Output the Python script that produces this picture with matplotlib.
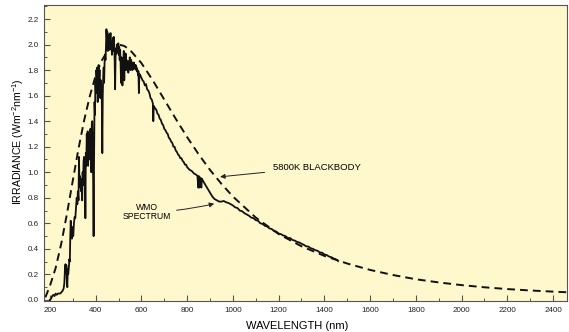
import matplotlib.pyplot as plt
from matplotlib.ticker import MultipleLocator, FormatStrFormatter

plt.rcParams['font.family'] = ['Liberation Sans', 'DejaVu Sans']
plt.rcParams['mathtext.default'] = 'regular'

# 5800K blackbody (dashed)
bbWave = [180, 200, 225, 250, 275, 300, 325, 350, 375, 400, 425, 450, 475, 500, 525, 550,
          600, 650, 700, 750, 800, 850, 900, 950, 1000, 1100, 1200, 1300, 1400, 1500, 1600,
          1700, 1800, 1900, 2000, 2100, 2200, 2300, 2400, 2460]
bbIrr = [0.02, 0.11, 0.25, 0.445, 0.68, 0.935, 1.185, 1.41, 1.60, 1.757, 1.87, 1.945, 1.988, 2.0,
         1.989, 1.958, 1.855, 1.719, 1.569, 1.419, 1.275, 1.141, 1.018, 0.909, 0.81, 0.645, 0.516,
         0.42, 0.345, 0.285, 0.235, 0.195, 0.162, 0.137, 0.116, 0.099, 0.085, 0.074, 0.065, 0.06]

# WMO spectrum (solid)
wmoWave = [200, 205, 210, 215, 220, 225, 230, 235, 240, 245, 250, 255, 260, 263, 266, 268, 270,
           272, 274, 276, 278, 280, 283, 285, 287, 289, 291, 293, 296, 299, 302, 305, 308, 311,
           314, 317, 320, 322, 325, 327, 329, 331, 333, 335, 337, 339, 341, 343, 345, 347, 349,
           351, 353, 355, 357, 359, 361, 363, 365, 367, 369, 371, 373, 375, 377, 379, 381, 383,
           385, 387, 389, 391, 393, 395, 397, 399, 401, 403, 405, 407, 409, 411, 413, 415, 417,
           419, 421, 423, 425, 427, 429, 431, 433, 435, 437, 439, 441, 443, 445, 447, 449, 451,
           453, 455, 457, 459, 461, 463, 465, 467, 469, 471, 473, 475, 477, 479, 481, 483, 485,
           487, 489, 491, 493, 495, 497, 499, 501, 503, 505, 507, 509, 511, 513, 515, 517, 519,
           521, 523, 525, 527, 529, 531, 533, 535, 537, 539, 541, 543, 545, 547, 549, 551, 553,
           555, 557, 559, 561, 563, 565, 567, 569, 571, 573, 575, 577, 579, 581, 583, 585, 587,
           589, 591, 595, 600, 605, 610, 615, 620, 625, 630, 635, 640, 645, 650, 652, 654, 660,
           665, 670, 675, 680, 685, 690, 695, 700, 705, 710, 715, 720, 725, 730, 735, 740, 745,
           750, 755, 760, 765, 770, 775, 780, 785, 790, 795, 800, 810, 820, 830, 840, 845, 849,
           851, 854, 856, 860, 862, 864, 870, 880, 890, 900, 910, 920, 930, 940, 950, 960, 970,
           980, 990, 1000, 1010, 1020, 1030, 1040, 1050, 1060, 1070, 1080, 1090, 1100, 1110,
           1120, 1130, 1140, 1150, 1160, 1170, 1180, 1190, 1200, 1210, 1220, 1230, 1240, 1250,
           1260, 1270, 1280, 1290, 1300, 1310, 1320, 1330, 1340, 1350, 1360, 1370, 1380, 1390,
           1400, 1410, 1420, 1430, 1440, 1450, 1460]
wmoIrr = [0.00, 0.01, 0.03, 0.04, 0.03, 0.05, 0.04, 0.05, 0.05, 0.05, 0.06, 0.07, 0.09, 0.13, 0.25,
          0.28, 0.22, 0.27, 0.15, 0.10, 0.24, 0.20, 0.26, 0.32, 0.30, 0.50, 0.62, 0.52, 0.48, 0.57,
          0.50, 0.60, 0.65, 0.64, 0.72, 0.80, 0.75, 0.85, 0.78, 1.12, 0.92, 0.97, 0.88, 0.95, 0.85,
          0.93, 0.78, 1.00, 0.90, 1.08, 1.12, 0.95, 1.10, 0.64, 1.15, 1.05, 1.30, 1.20, 1.32, 1.05,
          1.28, 1.18, 1.30, 1.10, 1.34, 1.22, 1.00, 1.38, 1.40, 1.20, 0.95, 0.50, 1.10, 1.55, 1.45,
          1.72, 1.62, 1.80, 1.75, 1.82, 1.55, 1.78, 1.84, 1.70, 1.80, 1.60, 1.58, 1.72, 1.65, 1.55,
          1.15, 1.60, 1.75, 1.82, 1.70, 1.86, 1.92, 1.88, 1.98, 2.12, 2.05, 2.10, 1.95, 2.06, 2.00,
          2.08, 1.96, 2.04, 2.09, 1.98, 2.02, 1.92, 1.99, 2.05, 1.95, 2.06, 2.00, 1.88, 1.65, 1.90,
          1.97, 1.93, 2.00, 1.94, 1.98, 2.01, 1.92, 1.98, 1.88, 1.96, 1.85, 1.70, 1.90, 1.82, 1.68,
          1.88, 1.85, 1.95, 1.72, 1.90, 1.80, 1.93, 1.85, 1.88, 1.80, 1.86, 1.84, 1.78, 1.87, 1.82,
          1.90, 1.86, 1.80, 1.88, 1.84, 1.86, 1.80, 1.85, 1.83, 1.86, 1.81, 1.84, 1.82, 1.84, 1.80,
          1.82, 1.79, 1.80, 1.76, 1.79, 1.62, 1.77, 1.76, 1.74, 1.72, 1.71, 1.68, 1.69, 1.65, 1.64,
          1.62, 1.58, 1.57, 1.54, 1.40, 1.52, 1.50, 1.49, 1.46, 1.45, 1.42, 1.41, 1.38, 1.37, 1.34,
          1.33, 1.31, 1.30, 1.27, 1.26, 1.24, 1.23, 1.20, 1.20, 1.17, 1.16, 1.14, 1.13, 1.11, 1.11,
          1.09, 1.08, 1.06, 1.06, 1.04, 1.02, 1.01, 0.99, 0.98, 0.97, 0.88, 0.97, 0.88, 0.96, 0.95,
          0.88, 0.95, 0.93, 0.90, 0.87, 0.84, 0.81, 0.79, 0.78, 0.77, 0.77, 0.775, 0.765, 0.76, 0.75,
          0.74, 0.725, 0.72, 0.70, 0.695, 0.68, 0.67, 0.66, 0.645, 0.64, 0.625, 0.62, 0.60, 0.595,
          0.58, 0.575, 0.56, 0.555, 0.54, 0.535, 0.52, 0.515, 0.505, 0.50, 0.485, 0.485, 0.47, 0.465,
          0.455, 0.45, 0.44, 0.432, 0.42, 0.418, 0.405, 0.40, 0.39, 0.385, 0.372, 0.37, 0.356, 0.352,
          0.34, 0.335, 0.325, 0.318, 0.305]

fig = plt.figure(figsize=(5.69, 3.32), dpi=100)
ax = fig.add_axes([0.0773, 0.092, 0.9192, 0.893])
ax.set_facecolor('#fff8cc')

ax.plot(bbWave, bbIrr, color='#111111', lw=1.4, dashes=(4, 2.6))
ax.plot(wmoWave, wmoIrr, color='#111111', lw=1.3)

ax.set_xlim(174, 2461)
ax.set_ylim(-0.012, 2.31)
ax.xaxis.set_major_locator(MultipleLocator(200))
ax.xaxis.set_minor_locator(MultipleLocator(100))
ax.yaxis.set_major_locator(MultipleLocator(0.2))
ax.yaxis.set_minor_locator(MultipleLocator(0.1))
ax.yaxis.set_major_formatter(FormatStrFormatter('%.1f'))
ax.tick_params(which='both', direction='in', labelsize=5.8, color='#555555', labelcolor='#222222')
ax.tick_params(which='major', length=4, width=0.8, pad=4)
ax.tick_params(which='minor', length=2.5, width=0.7)
for s in ax.spines.values():
    s.set_color('#555555')
    s.set_linewidth(0.8)

ax.set_xlabel('WAVELENGTH (nm)', fontsize=8)
ax.set_ylabel('IRRADIANCE (Wm$^{-2}$nm$^{-1}$)', fontsize=7.6)
ax.xaxis.set_label_coords(0.484, -0.065)
ax.yaxis.set_label_coords(-0.034, 0.54)

arrow = dict(arrowstyle='-|>', color='#222222', lw=0.7, mutation_scale=7)
ax.annotate('5800K BLACKBODY', xy=(932, 0.962), xytext=(1175, 1.04), fontsize=6.8,
            va='center', ha='left', arrowprops=dict(arrow, shrinkA=4))
ax.annotate('WMO\nSPECTRUM', xy=(930, 0.758), xytext=(624, 0.685), fontsize=6.2,
            va='center', ha='center', linespacing=1.0,
            arrowprops=dict(arrow, shrinkA=2, connectionstyle='arc3,rad=0.05'))

plt.savefig('out.png', dpi=100)
